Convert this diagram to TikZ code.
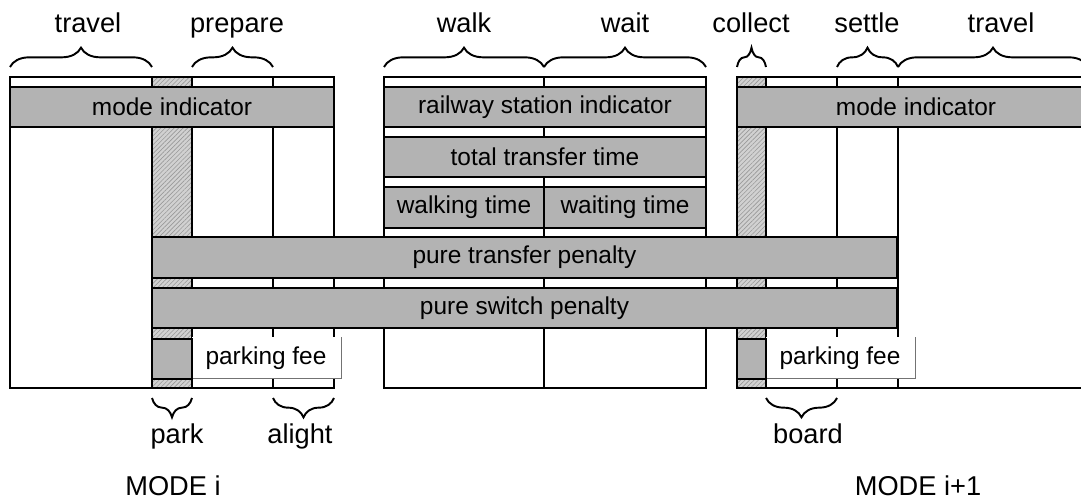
\documentclass[tikz,border=0pt]{standalone}
\usepackage{fontspec}
\setmainfont{Liberation Sans}
\usetikzlibrary{patterns.meta,decorations.pathreplacing}
\definecolor{bargray}{RGB}{179,179,179}
\tikzset{
  bar/.style={draw, line width=1.1pt, fill=bargray},
  hatched/.style={preaction={fill=black!18}, pattern={Lines[angle=45, distance=1.8pt, line width=0.35pt]}, pattern color=black!40},
  phase/.style={decorate, decoration={brace, amplitude=11pt}, line width=1.1pt},
  barlabel/.style={font=\fontsize{13.9}{16}\selectfont},
  phaselabel/.style={font=\fontsize{15.5}{18}\selectfont, anchor=base},
  feebox/.style={draw=black!55, line width=0.4pt},
}
\begin{document}
\begin{tikzpicture}[x=0.02cm, y=-0.02cm]
  \useasboundingbox (0,0) rectangle (1081,499);
  \clip (0,0) rectangle (1081,499);

  % hatched columns (park / collect)
  \fill[hatched] (152,77) rectangle (192,388);
  \fill[hatched] (737,77) rectangle (766,388);

  % mode i
  \draw[line width=1.1pt] (10,77) rectangle (334,388);
  \foreach \x in {152,192,273}
    \draw[line width=1.1pt] (\x,77) -- (\x,388);

  % transfer
  \draw[line width=1.1pt] (384,77) rectangle (706,388);
  \draw[line width=1.1pt] (544,77) -- (544,388);

  % mode i+1
  \draw[line width=1.1pt] (1095,77) -- (737,77) -- (737,388) -- (1095,388);
  \foreach \x in {766,837,898}
    \draw[line width=1.1pt] (\x,77) -- (\x,388);

  % bars
  \draw[bar] (10,87) rectangle node[barlabel] (modeA) {mode indicator} (334,127);
  \draw[bar] (384,87) rectangle node[barlabel] (station) {railway station indicator} (706,127);
  \draw[bar] (737,87) rectangle node[barlabel] (modeB) {mode indicator} (1095,127);
  \draw[bar] (384,137) rectangle node[barlabel] (total) {total transfer time} (706,177);
  \draw[bar] (384,187) rectangle node[barlabel] (walking) {walking time} (544,228);
  \draw[bar] (544,187) rectangle node[barlabel] (waiting) {waiting time} (706,228);
  \draw[bar] (152,237) rectangle node[barlabel] (transfer) {pure transfer penalty} (897,278);
  \draw[bar] (152,288) rectangle node[barlabel] (switch) {pure switch penalty} (897,328);

  % parking fees
  \fill[white] (192,337) rectangle (341,378);
  \draw[feebox] (192,378) -- (341,378) -- (341,337);
  \draw[bar] (152,339) rectangle (192,379);
  \node[barlabel] (feeA) at (266,358) {parking fee};
  \fill[white] (766,337) rectangle (915,378);
  \draw[feebox] (766,378) -- (915,378) -- (915,337);
  \draw[bar] (737,339) rectangle (766,379);
  \node[barlabel] (feeB) at (840,358) {parking fee};

  % phases on top
  \draw[phase] (10,67) -- (152,67);
  \node[phaselabel] (travelA) at (88,33) {travel};
  \draw[phase] (192,67) -- (273,67);
  \node[phaselabel] (prepare) at (237,33) {prepare};
  \draw[phase] (384,67) -- (544,67);
  \node[phaselabel] (walk) at (464,33) {walk};
  \draw[phase] (544,67) -- (706,67);
  \node[phaselabel] (wait) at (625,33) {wait};
  \draw[phase] (737,67) -- (766,67);
  \node[phaselabel] (collect) at (751,33) {collect};
  \draw[phase] (837,67) -- (898,67);
  \node[phaselabel] (settle) at (867,33) {settle};
  \draw[phase] (898,67) -- (1088,67);
  \node[phaselabel] (travelB) at (1001,33) {travel};

  % phases below
  \draw[phase] (192,398) -- (152,398);
  \node[phaselabel] (park) at (177,443) {park};
  \draw[phase] (334,398) -- (273,398);
  \node[phaselabel] (alight) at (300,443) {alight};
  \draw[phase] (837,398) -- (766,398);
  \node[phaselabel] (board) at (808,443) {board};

  % modes
  \node[phaselabel] (modeI) at (173,495) {MODE i};
  \node[phaselabel] (modeII) at (918,495) {MODE i+1};
\end{tikzpicture}
\end{document}
